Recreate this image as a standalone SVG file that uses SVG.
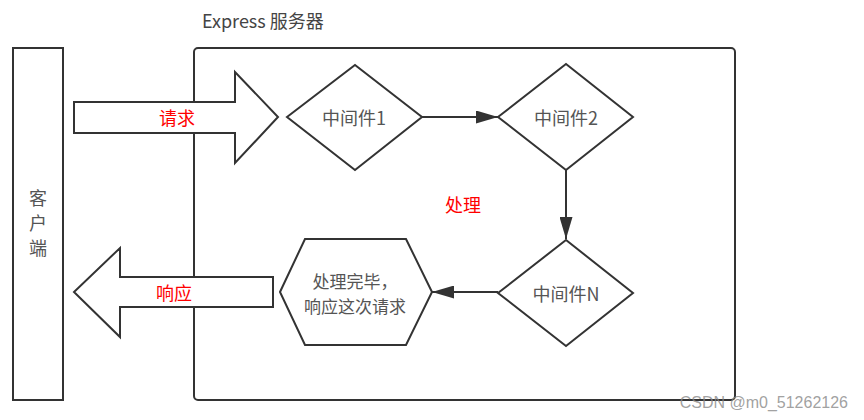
<svg xmlns="http://www.w3.org/2000/svg" width="864" height="420" viewBox="0 0 864 420">
<defs>
<style>
.s{fill:#fff;stroke:#333;stroke-width:2;stroke-linejoin:miter}
.t{font-family:"Noto Sans CJK SC","Liberation Sans",sans-serif;font-size:18px;fill:#555;text-anchor:middle;dominant-baseline:central}
.h{font-size:17px}
.r{font-family:"Noto Sans CJK SC","Liberation Sans",sans-serif;font-size:18px;fill:#f00;text-anchor:middle;dominant-baseline:central}
.c{fill:none;stroke:#333;stroke-width:2}
</style>
<marker id="ah" markerWidth="22" markerHeight="13" viewBox="0 0 22 13" refX="22" refY="6.5" orient="auto" markerUnits="userSpaceOnUse">
<path d="M0,0 L22,6.5 L0,13 Z" fill="#333"/>
</marker>
</defs>
<rect width="864" height="420" fill="#fff"/>
<g id="server">
<rect x="194" y="48" width="541" height="352" rx="4" class="s"/>
<text x="202" y="20" class="t" style="fill:#444;text-anchor:start">Express 服务器</text>
</g>
<g id="client">
<rect x="13" y="48" width="50" height="352" class="s"/>
<text x="38" y="197" class="t">客</text>
<text x="38" y="222" class="t">户</text>
<text x="38" y="247" class="t">端</text>
</g>
<g id="request">
<path d="M74,102 L235,102 L235,72 L278,117 L235,163 L235,133 L74,133 Z" class="s"/>
<text x="177" y="117" class="r">请求</text>
</g>
<g id="response">
<path d="M273,277 L120,277 L120,248 L74,292 L120,337 L120,307 L273,307 Z" class="s"/>
<text x="174" y="292" class="r">响应</text>
</g>
<g id="mw1">
<path d="M287,117 L355,65 L422,117 L355,170 Z" class="s"/>
<text x="354" y="117" class="t">中间件1</text>
</g>
<g id="mw2">
<path d="M498,117 L566,64 L633,117 L566,170 Z" class="s"/>
<text x="566" y="117" class="t">中间件2</text>
</g>
<g id="mwN">
<path d="M498,293 L566,240 L633,293 L566,346 Z" class="s"/>
<text x="566" y="293" class="t">中间件N</text>
</g>
<g id="done">
<path d="M280,292 L305,239 L406,239 L432,292 L406,345 L305,345 Z" class="s"/>
<text x="355" y="280" class="t h">处理完毕，</text>
<text x="355" y="305" class="t h">响应这次请求</text>
</g>
<g id="process-label">
<text x="463" y="204" class="r">处理</text>
</g>
<g id="connectors">
<line x1="422" y1="117" x2="498" y2="117" class="c" marker-end="url(#ah)"/>
<line x1="566" y1="170" x2="566" y2="239" class="c" marker-end="url(#ah)"/>
<line x1="498" y1="292" x2="432" y2="292" class="c" marker-end="url(#ah)"/>
</g>
<text x="848" y="402" font-family="Liberation Sans,sans-serif" font-size="16" fill="#888" fill-opacity="0.8" text-anchor="end" dominant-baseline="central">CSDN @m0_51262126</text>
</svg>
